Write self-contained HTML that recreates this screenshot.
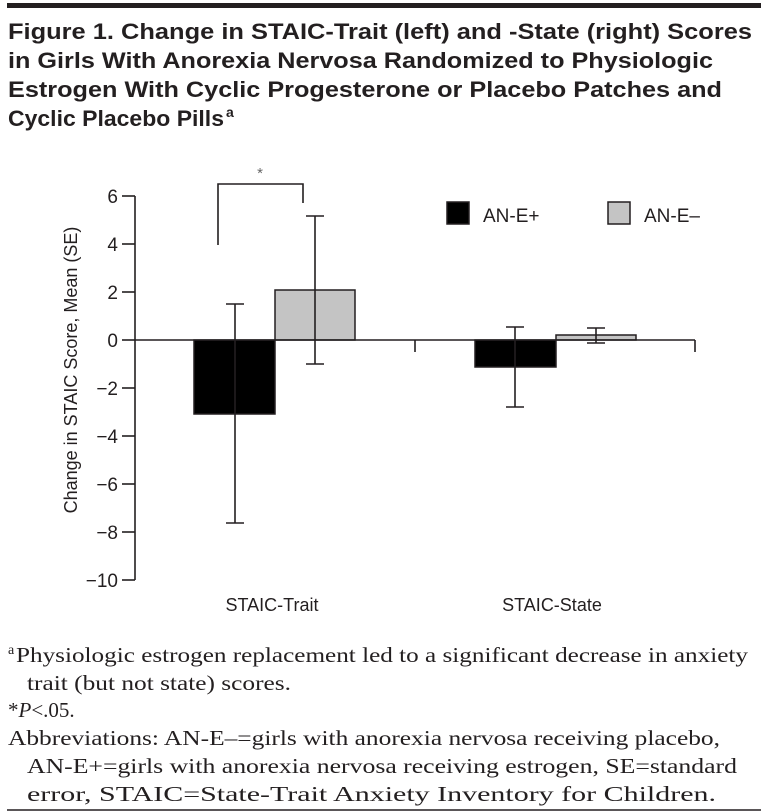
<!DOCTYPE html>
<html><head><meta charset="utf-8"><style>
html,body{margin:0;padding:0;background:#fff;}
svg{display:block;}
.t{font-family:"Liberation Sans",sans-serif;font-weight:bold;font-size:22px;fill:#231f20;}
.f{font-family:"Liberation Serif",serif;font-size:21px;fill:#231f20;}
.a{font-family:"Liberation Sans",sans-serif;font-size:17px;fill:#231f20;}
.n{font-family:"Liberation Sans",sans-serif;font-size:19px;fill:#231f20;}
</style></head><body>
<svg width="768" height="812" viewBox="0 0 768 812" xmlns="http://www.w3.org/2000/svg">
<rect x="7" y="3" width="754" height="5" fill="#231f20"/>
<text class="t" x="8" y="39" textLength="744" lengthAdjust="spacingAndGlyphs">Figure 1. Change in STAIC-Trait (left) and -State (right) Scores</text>
<text class="t" x="8" y="68" textLength="705" lengthAdjust="spacingAndGlyphs">in Girls With Anorexia Nervosa Randomized to Physiologic</text>
<text class="t" x="8" y="97" textLength="714" lengthAdjust="spacingAndGlyphs">Estrogen With Cyclic Progesterone or Placebo Patches and</text>
<text class="t" x="8" y="126" textLength="216" lengthAdjust="spacingAndGlyphs">Cyclic Placebo Pills</text>
<text class="t" x="226" y="117" style="font-size:14px">a</text>

<g stroke="#231f20" stroke-width="1.6" fill="none">
<line x1="135" y1="196" x2="135" y2="580"/>
<line x1="122" y1="196" x2="135" y2="196"/>
<line x1="122" y1="244" x2="135" y2="244"/>
<line x1="122" y1="292" x2="135" y2="292"/>
<line x1="122" y1="340" x2="135" y2="340"/>
<line x1="122" y1="388" x2="135" y2="388"/>
<line x1="122" y1="436" x2="135" y2="436"/>
<line x1="122" y1="484" x2="135" y2="484"/>
<line x1="122" y1="532" x2="135" y2="532"/>
<line x1="122" y1="580" x2="135" y2="580"/>
</g>
<g class="n" text-anchor="end">
<text x="118" y="203">6</text><text x="118" y="251">4</text><text x="118" y="299">2</text>
<text x="118" y="347">0</text><text x="118" y="395">−2</text><text x="118" y="443">−4</text>
<text x="118" y="491">−6</text><text x="118" y="539">−8</text><text x="118" y="587">−10</text>
</g>
<text class="a" transform="translate(77,370) rotate(-90)" text-anchor="middle" style="font-size:18px">Change in STAIC Score, Mean (SE)</text>

<rect x="194" y="340" width="81" height="74" fill="#000" stroke="#231f20" stroke-width="1.5"/>
<rect x="275" y="290" width="80" height="50" fill="#c4c4c4" stroke="#231f20" stroke-width="1.5"/>
<rect x="475" y="340" width="81" height="27" fill="#000" stroke="#231f20" stroke-width="1.5"/>
<rect x="556" y="335" width="80" height="5" fill="#c4c4c4" stroke="#231f20" stroke-width="1.5"/>

<g stroke="#231f20" stroke-width="1.6" fill="none">
<line x1="135" y1="340" x2="695" y2="340"/>
<line x1="415" y1="340" x2="415" y2="352"/>
<line x1="695" y1="340" x2="695" y2="352"/>
<line x1="235" y1="304" x2="235" y2="523"/>
<line x1="226" y1="304" x2="244" y2="304"/><line x1="226" y1="523" x2="244" y2="523"/>
<line x1="315" y1="216" x2="315" y2="364"/>
<line x1="306" y1="216" x2="324" y2="216"/><line x1="306" y1="364" x2="324" y2="364"/>
<line x1="515" y1="327" x2="515" y2="407"/>
<line x1="506" y1="327" x2="524" y2="327"/><line x1="506" y1="407" x2="524" y2="407"/>
<line x1="596" y1="328" x2="596" y2="343"/>
<line x1="587" y1="328" x2="605" y2="328"/><line x1="587" y1="343" x2="605" y2="343"/>
<polyline points="218,245 218,184 303,184 303,203"/>
</g>
<text class="a" x="260" y="178" text-anchor="middle" style="font-size:15px;fill:#666">*</text>

<rect x="447" y="202" width="22" height="22" fill="#000" stroke="#231f20" stroke-width="1.5"/>
<text class="n" x="483" y="222">AN-E+</text>
<rect x="608" y="202" width="22" height="22" fill="#c4c4c4" stroke="#231f20" stroke-width="1.5"/>
<text class="n" x="644" y="222">AN-E–</text>

<text class="a" x="272" y="611" text-anchor="middle" style="font-size:18px">STAIC-Trait</text>
<text class="a" x="552" y="611" text-anchor="middle" style="font-size:18px">STAIC-State</text>

<text class="f" x="8" y="654" style="font-size:14px">a</text>
<text class="f" x="16" y="662" textLength="732" lengthAdjust="spacingAndGlyphs">Physiologic estrogen replacement led to a significant decrease in anxiety</text>
<text class="f" x="27" y="690" textLength="264" lengthAdjust="spacingAndGlyphs">trait (but not state) scores.</text>
<text class="f" x="8" y="717">*<tspan font-style="italic">P</tspan>&lt;.05.</text>
<text class="f" x="8" y="745" textLength="712" lengthAdjust="spacingAndGlyphs">Abbreviations: AN-E–=girls with anorexia nervosa receiving placebo,</text>
<text class="f" x="27" y="773" textLength="710" lengthAdjust="spacingAndGlyphs">AN-E+=girls with anorexia nervosa receiving estrogen, SE=standard</text>
<text class="f" x="27" y="801" textLength="689" lengthAdjust="spacingAndGlyphs">error, STAIC=State-Trait Anxiety Inventory for Children.</text>
<line x1="7" y1="810" x2="761" y2="810" stroke="#231f20" stroke-width="1.5"/>
</svg>
</body></html>
